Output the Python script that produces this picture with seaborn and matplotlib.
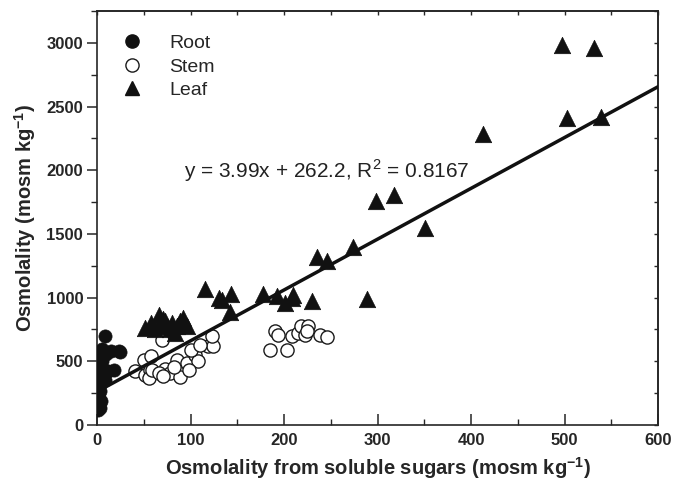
#!/usr/bin/env python3
"""Osmolality vs osmolality from soluble sugars (root / stem / leaf)."""

import matplotlib

matplotlib.use("Agg")
import matplotlib.pyplot as plt
from matplotlib.lines import Line2D
from matplotlib.ticker import MultipleLocator
import numpy as np
import pandas as pd
import seaborn as sns

# --- data ---------------------------------------------------------------
root_x = [8, 10, 15, 23, 25, 18, 12, 5, 3, 2, 4, 2, 3, 1, 2, 3, 1, 2, 4, 1, 2, 3, 1, 6, 8, 5]
root_y = [700, 560, 580, 580, 575, 430, 420, 600, 520, 480, 450, 400, 370, 330, 300,
          270, 240, 210, 190, 170, 150, 130, 120, 400, 350, 500]

stem_x = [40, 50, 58, 51, 57, 55, 59, 73, 78, 89, 85, 96, 105, 108, 100, 119, 124, 123,
          69, 82, 66, 71, 110, 98,
          190, 194, 185, 203, 208, 215, 218, 226, 222, 224, 238, 246]
stem_y = [420, 512, 538, 394, 433, 368, 433, 438, 407, 380, 512, 486, 551, 499, 591, 617,
          617, 700, 664, 459, 407, 381, 630, 433,
          735, 709, 591, 591, 695, 722, 774, 774, 709, 735, 709, 688]

leaf_x = [497, 531, 503, 539, 413, 351, 318, 298, 289, 274, 246, 235, 230, 210, 208, 201,
          192, 177, 143, 142, 134, 130, 115,
          51, 58, 62, 66, 70, 73, 78, 80, 83, 85, 89, 92, 96, 68, 75, 88]
leaf_y = [2985, 2960, 2410, 2420, 2285, 1545, 1805, 1760, 990, 1400, 1285, 1320, 970, 1020,
          1000, 960, 1010, 1025, 1030, 890, 985, 995, 1065,
          760, 800, 750, 860, 830, 815, 750, 800, 725, 775, 815, 840, 775, 790, 780, 790]

slope = 3.99
intercept = 262.2
r_squared = 0.8167

x_range = [0, 600]
y_range = [0, 3250]
x_ticks = [0, 100, 200, 300, 400, 500, 600]
y_ticks = [0, 500, 1000, 1500, 2000, 2500, 3000]


def setup_style() -> None:
    sns.set_theme(style="ticks")
    plt.rcParams["font.family"] = ["Liberation Sans", "DejaVu Sans"]
    plt.rcParams["mathtext.fontset"] = "custom"
    plt.rcParams["mathtext.rm"] = "Liberation Sans"
    plt.rcParams["mathtext.bf"] = "Liberation Sans:bold"
    plt.rcParams["axes.linewidth"] = 1.2


def main() -> None:
    setup_style()
    fig, ax = plt.subplots(figsize=(6.84, 4.84), dpi=100)
    fig.subplots_adjust(left=0.142, right=0.962, bottom=0.122, top=0.977)

    stem = pd.DataFrame({"x": stem_x, "y": stem_y})
    root = pd.DataFrame({"x": root_x, "y": root_y})
    leaf = pd.DataFrame({"x": leaf_x, "y": leaf_y})

    sns.scatterplot(data=stem, x="x", y="y", marker="o", s=90, color="white",
                    edgecolor="#1a1a1a", linewidth=1.0, ax=ax, zorder=2)

    line_x = np.array(x_range, dtype=float)
    sns.lineplot(x=line_x, y=slope * line_x + intercept, color="#111111",
                 linewidth=2.5, ax=ax, zorder=3)

    sns.scatterplot(data=root, x="x", y="y", marker="o", s=90, color="#111111",
                    edgecolor="#111111", linewidth=0.5, ax=ax, zorder=4)
    sns.scatterplot(data=leaf, x="x", y="y", marker="^", s=140, color="#111111",
                    edgecolor="#111111", linewidth=0.5, ax=ax, zorder=4)

    ax.set_xlim(*x_range)
    ax.set_ylim(*y_range)
    ax.set_xticks(x_ticks)
    ax.set_yticks(y_ticks)
    ax.xaxis.set_minor_locator(MultipleLocator(50))
    ax.yaxis.set_minor_locator(MultipleLocator(250))
    ax.tick_params(axis="x", which="major", direction="in", length=8, width=1.1,
                   labelsize=12, pad=6)
    ax.tick_params(axis="x", which="minor", direction="in", length=4, width=1.0)
    ax.tick_params(axis="y", which="major", direction="out", length=7, width=1.1,
                   labelsize=12, pad=3)
    ax.tick_params(axis="y", which="minor", direction="out", length=4, width=1.0)
    for lab in ax.get_xticklabels() + ax.get_yticklabels():
        lab.set_fontweight("bold")

    top = ax.secondary_xaxis("top")
    top.set_xticks(np.arange(0, 601, 50))
    top.tick_params(direction="in", length=3, width=1.0, labeltop=False)
    right = ax.secondary_yaxis("right")
    right.set_yticks(np.arange(0, 3251, 250))
    right.tick_params(direction="in", length=3, width=1.0, labelright=False)

    ax.set_xlabel(r"Osmolality from soluble sugars (mosm kg$^{\mathbf{-1}}$)",
                  fontsize=14.5, fontweight="bold", labelpad=5)
    ax.set_ylabel(r"Osmolality (mosm kg$^{\mathbf{-1}}$)",
                  fontsize=14.5, fontweight="bold", labelpad=6)

    ax.text(93, 2000, rf"y = {slope}x + {intercept}, R$^2$ = {r_squared}",
            fontsize=15, va="center", ha="left", color="#222222")

    handles = [
        Line2D([], [], marker="o", linestyle="none", markersize=9.5,
               markerfacecolor="#111111", markeredgecolor="#111111", label="Root"),
        Line2D([], [], marker="o", linestyle="none", markersize=9.5,
               markerfacecolor="white", markeredgecolor="#1a1a1a", label="Stem"),
        Line2D([], [], marker="^", linestyle="none", markersize=10.5,
               markerfacecolor="#111111", markeredgecolor="#111111", label="Leaf"),
    ]
    ax.legend(handles=handles, loc="upper left", frameon=False, fontsize=14,
              handletextpad=0.9, labelspacing=0.3, borderaxespad=0.0,
              bbox_to_anchor=(0.014, 0.962))

    fig.savefig("out.png", dpi=100)
    plt.close(fig)


if __name__ == "__main__":
    main()
